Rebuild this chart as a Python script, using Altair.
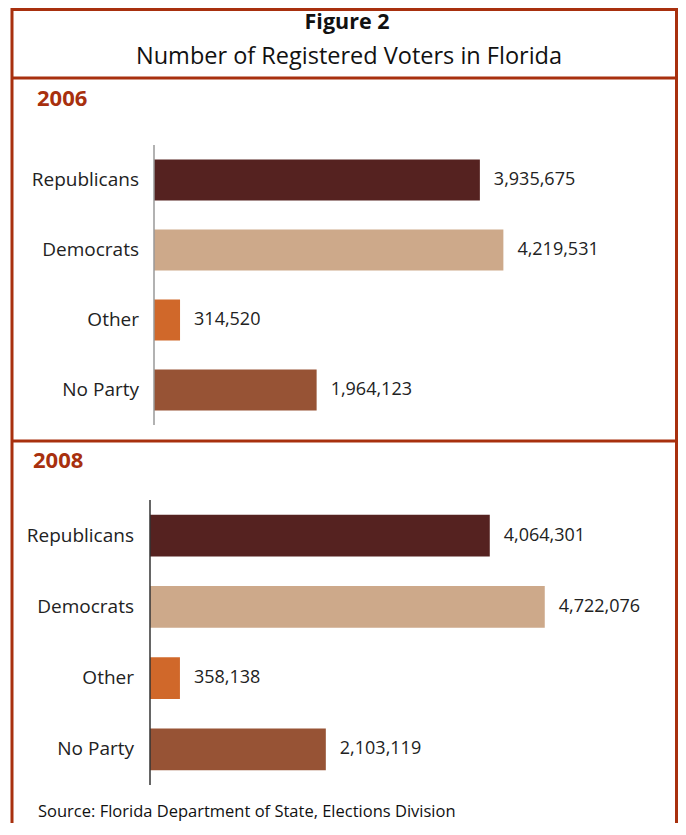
import altair as alt
import pandas as pd

parties = ["Republicans", "Democrats", "Other", "No Party"]
votes_2006 = [3935675, 4219531, 314520, 1964123]
votes_2008 = [4064301, 4722076, 358138, 2103119]
party_colors = ["#552220", "#cda98a", "#d0682a", "#975335"]

title_text = "Figure 2"
subtitle_text = "Number of Registered Voters in Florida"
source_text = "Source: Florida Department of State, Elections Division"
years = ["2006", "2008"]

FONT = "Open Sans"
BORDER = "#a8300e"


def make_df(vals):
    return pd.DataFrame({
        "party": parties,
        "value": vals,
        "label": [f"{v:,}" for v in vals],
    })


def panel(vals, xrange, yrange, label_x, domain_color):
    df = make_df(vals)
    base = alt.Chart(df)
    x = alt.X("value:Q", axis=None,
              scale=alt.Scale(domain=[0, 5000000], range=xrange, nice=False, zero=True))
    y = alt.Y("party:N", sort=parties, title=None, axis=None,
              scale=alt.Scale(domain=parties, range=yrange, paddingInner=0.414, paddingOuter=0.207))
    bars = base.mark_bar().encode(
        x=x, y=y,
        color=alt.Color("party:N", scale=alt.Scale(domain=parties, range=party_colors), legend=None),
    )
    values = base.mark_text(align="left", baseline="middle", dx=14, font=FONT,
                            fontSize=18, color="#222222").encode(
        x=x, y=y, text="label:N")
    names = base.mark_text(align="right", baseline="middle", font=FONT,
                           fontSize=19, color="#222222").encode(
        x=alt.value(label_x), y=y, text="party:N")
    domain = alt.Chart(pd.DataFrame({"k": [0]})).mark_rule(
        color=domain_color, strokeWidth=1.5).encode(
        x=alt.value(xrange[0]), y=alt.value(yrange[0]), y2=alt.value(yrange[1]))
    return alt.layer(bars, values, names, domain)


p06 = panel(votes_2006, [146, 560], [137, 417], 131, "#999999")
p08 = panel(votes_2008, [142, 560], [492, 777], 126, "#333333")

one = pd.DataFrame({"k": [0]})


def txt(t, x, y, size, bold=False, color="#111111", align="center"):
    return alt.Chart(one).mark_text(text=t, font=FONT, fontSize=size,
                                    fontWeight="bold" if bold else "normal",
                                    color=color, align=align, baseline="middle").encode(
        x=alt.value(x), y=alt.value(y))


def hrule(y, x1, x2):
    return alt.Chart(one).mark_rule(color=BORDER, strokeWidth=3).encode(
        x=alt.value(x1), x2=alt.value(x2), y=alt.value(y))


def vrule(x, y1, y2):
    return alt.Chart(one).mark_rule(color=BORDER, strokeWidth=3).encode(
        x=alt.value(x), y=alt.value(y1), y2=alt.value(y2))


deco = [
    hrule(1.5, 4, 668.5),
    hrule(70, 4, 668.5),
    hrule(433, 4, 668.5),
    vrule(4, 0, 815),
    vrule(668.5, 0, 815),
    txt(title_text, 339, 15, 21.5, bold=True),
    txt(subtitle_text, 341, 49, 23.5),
    txt(years[0], 29, 91, 22, bold=True, color=BORDER, align="left"),
    txt(years[1], 25, 453, 22, bold=True, color=BORDER, align="left"),
    txt(source_text, 30, 804, 16.5, align="left"),
]

chart = alt.layer(p06, p08, *deco).resolve_scale(
    x="independent", y="independent"
).properties(
    width=670, height=815, padding=0,
    autosize=alt.AutoSizeParams(type="none"),
).configure_view(stroke=None)

chart.save("out.html", embed_options={"renderer": "svg", "actions": False})
